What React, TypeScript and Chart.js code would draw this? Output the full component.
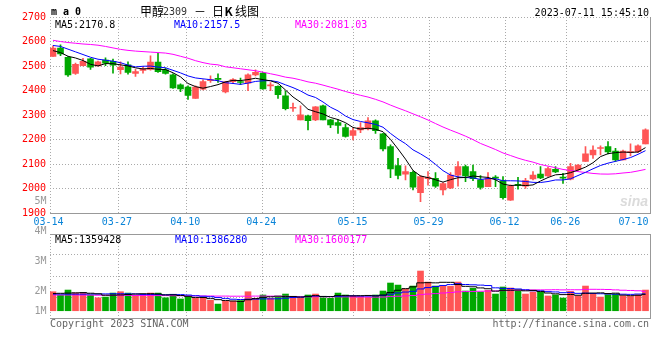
import React, { useEffect, useRef } from "react";
import { Chart, registerables } from "chart.js";

Chart.register(...registerables);

// ---------------- data ----------------
const dates: string[] = [
  "03-14","03-15","03-16","03-17","03-20","03-21","03-22","03-23","03-24","03-27","03-28","03-29","03-30","03-31",
  "04-03","04-04","04-06","04-07","04-10","04-11","04-12","04-13","04-14","04-17","04-18","04-19","04-20","04-21","04-24","04-25","04-26","04-27","04-28",
  "05-04","05-05","05-08","05-09","05-10","05-11","05-12","05-15","05-16","05-17","05-18","05-19","05-22","05-23","05-24","05-25","05-26","05-29","05-30","05-31",
  "06-01","06-02","06-05","06-06","06-07","06-08","06-09","06-12","06-13","06-14","06-15","06-16","06-19","06-20","06-21","06-26","06-27","06-28","06-29","06-30",
  "07-03","07-04","07-05","07-06","07-07","07-10","07-11",
];

const opens = [
  2539,2573,2536,2470,2502,2530,2501,2524,2519,2485, 2505,2470,2482,2486,2516,2485,2464,2424,2414,2368,
  2406,2441,2450,2395,2436,2437,2430,2464,2471,2419, 2417,2379,2328,2281,2297,2281,2338,2281,2270,2249,
  2217,2240,2244,2277,2224,2172,2094,2059,2067,1984, 2041,2043,1995,2003,2055,2090,2070,2036,2009,2048,
  2033,1954,2018,2011,2040,2060,2052,2079,2048,2039, 2077,2111,2138,2164,2172,2154,2118,2147,2151,2183,
];
const highs = [
  2582,2587,2539,2512,2532,2532,2520,2534,2528,2517, 2517,2487,2496,2542,2553,2492,2468,2428,2420,2420,
  2444,2460,2468,2438,2449,2451,2468,2485,2474,2433, 2419,2398,2349,2338,2300,2335,2341,2283,2281,2264,
  2247,2270,2290,2281,2226,2179,2124,2093,2073,2054, 2070,2066,2025,2066,2111,2097,2097,2054,2066,2054,
  2050,2016,2047,2043,2070,2090,2088,2090,2063,2104, 2099,2172,2175,2175,2192,2165,2158,2183,2179,2244,
];
const lows = [
  2539,2542,2458,2466,2501,2486,2501,2502,2471,2468, 2467,2458,2471,2483,2474,2467,2409,2396,2364,2368,
  2403,2433,2433,2391,2430,2424,2400,2460,2406,2400, 2368,2321,2315,2281,2240,2277,2281,2249,2226,2210,
  2199,2229,2240,2226,2154,2045,2040,2036,1995,1947, 2015,2005,1975,2000,2011,2029,2033,1998,2009,2009,
  1958,1952,1998,2001,2036,2041,2050,2066,2022,2036, 2075,2111,2124,2138,2142,2111,2118,2134,2147,2183,
];
const closes = [
  2573,2550,2464,2507,2519,2496,2517,2512,2504,2496, 2474,2478,2489,2516,2477,2470,2411,2407,2380,2414,
  2437,2445,2446,2436,2445,2433,2464,2474,2407,2422, 2383,2326,2332,2301,2277,2334,2281,2260,2258,2213,
  2237,2249,2277,2237,2162,2081,2054,2070,2006,2050, 2047,2011,2021,2056,2090,2052,2041,2005,2043,2043,
  1964,2011,2014,2033,2056,2044,2082,2069,2043,2090, 2097,2142,2158,2168,2150,2118,2154,2151,2175,2240,
];
// volume, millions of lots
const volumesM = [
  1.57,1.30,1.71,1.46,1.46,1.30,1.07,1.13,1.46,1.57, 1.46,1.28,1.26,1.46,1.46,1.07,1.32,0.97,1.11,1.03,
  1.03,0.86,0.55,0.79,0.79,0.84,1.57,1.03,1.30,1.03, 1.10,1.38,1.09,1.07,1.30,1.38,1.07,1.03,1.46,1.30,
  1.26,1.17,1.12,1.30,1.63,2.29,2.12,1.79,2.04,3.28, 2.37,2.04,2.02,2.02,2.37,1.63,1.85,1.55,1.69,1.38,
  1.96,1.88,1.63,1.38,1.55,1.53,1.22,1.31,1.05,1.60, 1.22,2.04,1.39,1.13,1.32,1.38,1.22,1.18,1.30,1.71,
];
// moving-average values before enough in-window history exists
const ma5Head = [2563, 2555, 2540, 2533];
const ma10Head = [2584, 2580, 2569, 2558, 2547, 2536, 2528, 2524, 2520];
const ma30Head = [
  2605, 2600, 2596, 2593, 2590, 2588, 2585, 2580, 2574, 2568, 2564, 2561, 2559, 2557, 2555,
  2553, 2548, 2540, 2532, 2522, 2514, 2508, 2505, 2497, 2493, 2489, 2485, 2481, 2475,
];
const vma5Head = [1.42, 1.44, 1.46, 1.48];
const vma10Head = [1.38, 1.38, 1.37, 1.37, 1.37, 1.38, 1.38, 1.39, 1.40];
const vma30Head = [
  1.30, 1.30, 1.30, 1.30, 1.29, 1.29, 1.28, 1.28, 1.27, 1.27, 1.27, 1.26, 1.26, 1.26, 1.25,
  1.25, 1.24, 1.24, 1.23, 1.23, 1.22, 1.22, 1.21, 1.21, 1.20, 1.20, 1.20, 1.21, 1.21,
];

const xTickDates = ["03-14", "03-27", "04-10", "04-24", "05-15", "05-29", "06-12", "06-26", "07-10"];
const priceMin = 1900;
const priceMax = 2700;
const priceStep = 100;
const maLabels = ["MA5:2170.8", "MA10:2157.5", "MA30:2081.03"];
const volMaLabels = ["MA5:1359428", "MA10:1386280", "MA30:1600177"];
const volAxisLabels = ["4M", "3M", "2M", "1M"];
const titleName = "甲醇";
const titleCode = "2309";
const timestamp = "2023-07-11 15:45:10";

// ---------------- style / layout ----------------
const MONO = '"DejaVu Sans Mono", monospace';
const CJK = '"Noto Sans CJK SC", "Noto Sans", sans-serif';
const RED = "#ff5555";
const GREEN = "#00a800";
const GRID = "#aaaaaa";
const FRAME = "#999999";
const XLABEL = "#0a84d8";
const MA_COLORS = ["#000000", "#0000ff", "#ff00ff"];

const PLOT_L = 50;
const PAD_R = 10;
const MAIN_H = 225;
const MAIN_TOP = 17;
const MAIN_BOTTOM = 213.3;
const VOL_TOP = 225;
const VOL_H = 135;
const VOL_PLOT_TOP = 9;
const VOL_PLOT_BOTTOM = 93;
const VOL_MIN = -0.6;
const VOL_MAX = 6.34;
const XMIN = -0.4;
const XMAX = dates.length - 0.4;
const GRID_STRIDE = 7.6 / 7.5;

function movingAverage(values: number[], n: number, head: number[]): number[] {
  return values.map((_, i) => {
    if (i < n - 1) return head[i];
    let s = 0;
    for (let k = i - n + 1; k <= i; k++) s += values[k];
    return s / n;
  });
}

function buildXTicks() {
  return xTickDates.map((d) => {
    const raw = dates.indexOf(d) * GRID_STRIDE + XMIN;
    const v = Math.min(raw, XMAX - 2);
    return { value: v, hideGrid: v < raw - 1e-6 };
  });
}

type TextItem = { text: string; x: number; y: number; color: string; font: string; align?: CanvasTextAlign };

function textPlugin(id: string, items: TextItem[]) {
  return {
    id,
    afterDraw(chart: any) {
      const ctx: CanvasRenderingContext2D = chart.ctx;
      ctx.save();
      ctx.textBaseline = "alphabetic";
      for (const t of items) {
        ctx.font = t.font;
        ctx.fillStyle = t.color;
        ctx.textAlign = t.align || "left";
        ctx.fillText(t.text, t.x, t.y);
      }
      ctx.restore();
    },
  };
}

const gridColor = (c: any) => (c && c.tick && c.tick.hideGrid ? "rgba(0,0,0,0)" : GRID);

function xScale(showLabels: boolean, height: number) {
  return {
    type: "linear",
    position: "bottom",
    min: XMIN,
    max: XMAX,
    bounds: "data",
    offset: false,
    afterBuildTicks: (s: any) => {
      s.ticks = buildXTicks();
    },
    afterFit: (s: any) => {
      s.height = height;
    },
    ticks: {
      display: showLabels,
      autoSkip: false,
      maxRotation: 0,
      minRotation: 0,
      color: XLABEL,
      font: { family: MONO, size: 10 },
      padding: 3,
      labelOffset: -1.5,
      callback: (_v: any, i: number) => xTickDates[i],
    },
    grid: { color: gridColor, drawTicks: false, offset: false, lineWidth: 1 },
    border: { display: true, color: FRAME, dash: [1, 2] },
  };
}

const rightFrame = {
  type: "linear",
  position: "right",
  min: 0,
  max: 1,
  ticks: { display: false },
  grid: { display: false, drawTicks: false },
  border: { display: true, color: FRAME },
  afterFit: (s: any) => {
    s.width = 0;
  },
};

function mainConfig(): any {
  const up = opens.map((o, i) => closes[i] >= o);
  const colors = up.map((u) => (u ? RED : GREEN));
  const ma = [
    movingAverage(closes, 5, ma5Head),
    movingAverage(closes, 10, ma10Head),
    movingAverage(closes, 30, ma30Head),
  ];
  const lineSets = ma.map((arr, k) => ({
    type: "line",
    label: ["MA5", "MA10", "MA30"][k],
    data: arr.map((y, i) => ({ x: i, y })),
    borderColor: MA_COLORS[k],
    borderWidth: 1,
    pointRadius: 0,
    tension: 0,
    fill: false,
    order: 0,
  }));
  const texts: TextItem[] = [
    { text: "m a 0", x: 51, y: 15, color: "#000", font: `bold 10px ${MONO}` },
    { text: titleName, x: 140, y: 15.5, color: "#000", font: `12px ${CJK}` },
    { text: titleCode, x: 163, y: 15, color: "#333", font: `10px ${MONO}` },
    { text: "－", x: 194, y: 15.5, color: "#000", font: `12px ${CJK}` },
    { text: "日", x: 212, y: 15.5, color: "#000", font: `12px ${CJK}` },
    { text: "K", x: 224.5, y: 15.5, color: "#000", font: `bold 12px ${CJK}` },
    { text: "线图", x: 235, y: 15.5, color: "#000", font: `12px ${CJK}` },
    { text: timestamp, x: 649, y: 15.5, color: "#000", font: `10px ${MONO}`, align: "right" },
    { text: maLabels[0], x: 55, y: 27.5, color: MA_COLORS[0], font: `10px ${MONO}` },
    { text: maLabels[1], x: 174, y: 27.5, color: MA_COLORS[1], font: `10px ${MONO}` },
    { text: maLabels[2], x: 295, y: 27.5, color: MA_COLORS[2], font: `10px ${MONO}` },
    { text: "5M", x: 46.5, y: 204.3, color: "#999", font: `10px ${MONO}`, align: "right" },
    { text: "sina", x: 620, y: 206, color: "rgba(175,175,175,0.45)", font: `italic bold 14px "Liberation Sans", sans-serif` },
  ];
  return {
    type: "bar",
    data: {
      datasets: [
        ...lineSets,
        {
          type: "bar",
          label: "body",
          data: opens.map((o, i) => ({ x: i, y: [o, closes[i]] })),
          backgroundColor: colors,
          borderWidth: 0,
          barThickness: 6,
          grouped: false,
          minBarLength: 1,
          order: 5,
        },
        {
          type: "bar",
          label: "wick",
          data: lows.map((l, i) => ({ x: i, y: [l, highs[i]] })),
          backgroundColor: colors,
          borderWidth: 0,
          barThickness: 1,
          grouped: false,
          order: 6,
        },
      ],
    },
    options: {
      responsive: false,
      animation: false,
      devicePixelRatio: 1,
      events: [],
      layout: { padding: { top: MAIN_TOP, right: PAD_R, left: 0, bottom: 0 } },
      plugins: { legend: { display: false }, tooltip: { enabled: false }, title: { display: false } },
      scales: {
        x: xScale(true, MAIN_H - MAIN_BOTTOM),
        y: {
          type: "linear",
          position: "left",
          min: priceMin,
          max: priceMax,
          bounds: "data",
          ticks: {
            stepSize: priceStep,
            color: "#ff0000",
            font: { family: MONO, size: 10 },
            padding: 4,
            callback: (v: any) => String(v),
          },
          grid: { color: GRID, drawTicks: false },
          border: { display: false, dash: [1, 2] },
          afterFit: (s: any) => {
            s.width = PLOT_L;
          },
        },
        y2: rightFrame,
      },
    },
    plugins: [textPlugin("mainTexts", texts)],
  };
}

function volConfig(): any {
  const up = opens.map((o, i) => closes[i] >= o);
  const colors = up.map((u) => (u ? RED : GREEN));
  const vma = [
    movingAverage(volumesM, 5, vma5Head),
    movingAverage(volumesM, 10, vma10Head),
    movingAverage(volumesM, 30, vma30Head),
  ];
  const lineSets = vma.map((arr, k) => ({
    type: "line",
    label: ["VMA5", "VMA10", "VMA30"][k],
    data: arr.map((y, i) => ({ x: i, y })),
    borderColor: MA_COLORS[k],
    borderWidth: 1,
    pointRadius: 0,
    stepped: "middle",
    fill: false,
    order: 0,
  }));
  const texts: TextItem[] = [
    { text: volMaLabels[0], x: 55, y: 17.5, color: MA_COLORS[0], font: `10px ${MONO}` },
    { text: volMaLabels[1], x: 175, y: 17.5, color: MA_COLORS[1], font: `10px ${MONO}` },
    { text: volMaLabels[2], x: 295, y: 17.5, color: MA_COLORS[2], font: `10px ${MONO}` },
    { text: volAxisLabels[0], x: 46.5, y: 9, color: "#999", font: `10px ${MONO}`, align: "right" },
    { text: volAxisLabels[1], x: 46.5, y: 39, color: "#999", font: `10px ${MONO}`, align: "right" },
    { text: volAxisLabels[2], x: 46.5, y: 69, color: "#999", font: `10px ${MONO}`, align: "right" },
    { text: volAxisLabels[3], x: 46.5, y: 89, color: "#999", font: `10px ${MONO}`, align: "right" },
    { text: "Copyright 2023 SINA.COM", x: 50, y: 102.3, color: "#666", font: `10px ${MONO}` },
    { text: "http://finance.sina.com.cn", x: 649, y: 102.3, color: "#666", font: `10px ${MONO}`, align: "right" },
  ];
  return {
    type: "bar",
    data: {
      datasets: [
        ...lineSets,
        {
          type: "bar",
          label: "volume",
          data: volumesM.map((v, i) => ({ x: i, y: v })),
          backgroundColor: colors,
          borderWidth: 0,
          barThickness: 6,
          grouped: false,
          order: 5,
        },
      ],
    },
    options: {
      responsive: false,
      animation: false,
      devicePixelRatio: 1,
      events: [],
      layout: { padding: { top: VOL_PLOT_TOP, right: PAD_R, left: 0, bottom: 0 } },
      plugins: { legend: { display: false }, tooltip: { enabled: false }, title: { display: false } },
      scales: {
        x: xScale(false, VOL_H - VOL_PLOT_BOTTOM),
        x2: {
          type: "linear",
          position: "top",
          min: 0,
          max: 1,
          ticks: { display: false },
          grid: { display: false, drawTicks: false },
          border: { display: true, color: FRAME },
          afterFit: (s: any) => {
            s.height = 0;
          },
        },
        y: {
          type: "linear",
          position: "left",
          min: VOL_MIN,
          max: VOL_MAX,
          bounds: "data",
          afterBuildTicks: (s: any) => {
            s.ticks = [0, 1, 2, 3, 4].map((k) => ({ value: VOL_MIN + (k * (VOL_MAX - VOL_MIN)) / 4 }));
          },
          ticks: { display: false },
          grid: { color: GRID, drawTicks: false },
          border: { display: false, dash: [1, 2] },
          afterFit: (s: any) => {
            s.width = PLOT_L;
          },
        },
        y2: rightFrame,
      },
    },
    plugins: [textPlugin("volTexts", texts)],
  };
}

export default function App() {
  const mainRef = useRef<HTMLCanvasElement>(null);
  const volRef = useRef<HTMLCanvasElement>(null);
  useEffect(() => {
    const c1 = new Chart(mainRef.current as HTMLCanvasElement, mainConfig());
    const c2 = new Chart(volRef.current as HTMLCanvasElement, volConfig());
    return () => {
      c1.destroy();
      c2.destroy();
    };
  }, []);
  return (
    <div style={{ position: "absolute", left: 0, top: 0, width: 660, height: 360, background: "#fff" }}>
      <canvas
        ref={mainRef}
        width={660}
        height={MAIN_H}
        style={{ position: "absolute", left: 0, top: 0, width: 660, height: MAIN_H }}
      />
      <canvas
        ref={volRef}
        width={660}
        height={VOL_H}
        style={{ position: "absolute", left: 0, top: VOL_TOP, width: 660, height: VOL_H }}
      />
    </div>
  );
}
